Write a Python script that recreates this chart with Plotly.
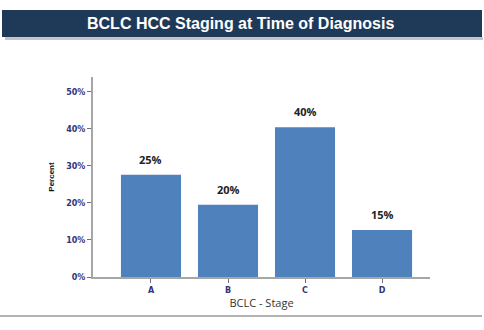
import plotly.graph_objects as go

stages = ["A", "B", "C", "D"]
bar_values = [27.6, 19.5, 40.4, 12.7]
bar_labels = ["25%", "20%", "40%", "15%"]
y_ticks = [0, 10, 20, 30, 40, 50]
y_tick_text = ["0%", "10%", "20%", "30%", "40%", "50%"]

fig = go.Figure()
fig.add_trace(go.Bar(
    x=stages, y=bar_values,
    marker=dict(color="#4f81bd", line=dict(width=0)),
    hoverinfo="skip",
))

for s, v, t in zip(stages, bar_values, bar_labels):
    fig.add_annotation(x=s, y=v, text="<b>" + t + "</b>", showarrow=False,
                       yanchor="bottom", yshift=6,
                       font=dict(family="Open Sans, Arial", size=11, color="#222222"))

# title bar with shadow
fig.add_shape(type="rect", xref="paper", yref="paper",
              x0=(5 - 93)/337, x1=(483 - 93)/337,
              y0=(277 - 40)/200, y1=(277 - 37)/200,
              fillcolor="#c4c4c4", line=dict(width=0), layer="below")
fig.add_shape(type="rect", xref="paper", yref="paper",
              x0=(2 - 93)/337, x1=(482 - 93)/337,
              y0=(277 - 37)/200, y1=(277 - 10)/200,
              fillcolor="#1f3a58", line=dict(width=0), layer="below")
fig.add_annotation(xref="paper", yref="paper", x=(240 - 93)/337, y=(277 - 23.5)/200,
                   text="<b>BCLC HCC Staging at Time of Diagnosis</b>", showarrow=False,
                   xanchor="center", yanchor="middle",
                   font=dict(family="Liberation Sans, Arial", size=16, color="white"))
# bottom line
fig.add_shape(type="line", xref="paper", yref="paper",
              x0=(0 - 93)/337, x1=(482 - 93)/337,
              y0=(277 - 316)/200, y1=(277 - 316)/200,
              line=dict(color="#b4b4b4", width=2))

fig.update_layout(
    width=484, height=330,
    margin=dict(l=93, r=54, t=77, b=53),
    paper_bgcolor="white", plot_bgcolor="white",
    bargap=0.22, showlegend=False,
    xaxis=dict(
        range=[-0.753, 3.623],
        tickvals=stages, ticktext=["<b>" + s + "</b>" for s in stages],
        showline=True, linecolor="#a6a6a6", linewidth=2,
        ticks="outside", ticklen=4, tickcolor="#707070", tickwidth=1,
        tickfont=dict(family="DejaVu Sans", size=8, color="#33337a"),
        showgrid=False, zeroline=False,
        title=dict(text="BCLC - Stage", standoff=6,
                   font=dict(family="Open Sans, Arial", size=11, color="#333333")),
    ),
    yaxis=dict(
        range=[0, 54],
        tickvals=y_ticks, ticktext=["<b>" + t + "</b>" for t in y_tick_text],
        showline=True, linecolor="#a6a6a6", linewidth=2,
        ticks="outside", ticklen=4, tickcolor="#707070", tickwidth=1,
        tickfont=dict(family="DejaVu Sans", size=8, color="#33337a"),
        showgrid=False, zeroline=False,
        title=dict(text="<b>Percent</b>", standoff=10,
                   font=dict(family="Liberation Sans, Arial", size=8, color="#111111")),
    ),
)

fig.write_html("out.html")
